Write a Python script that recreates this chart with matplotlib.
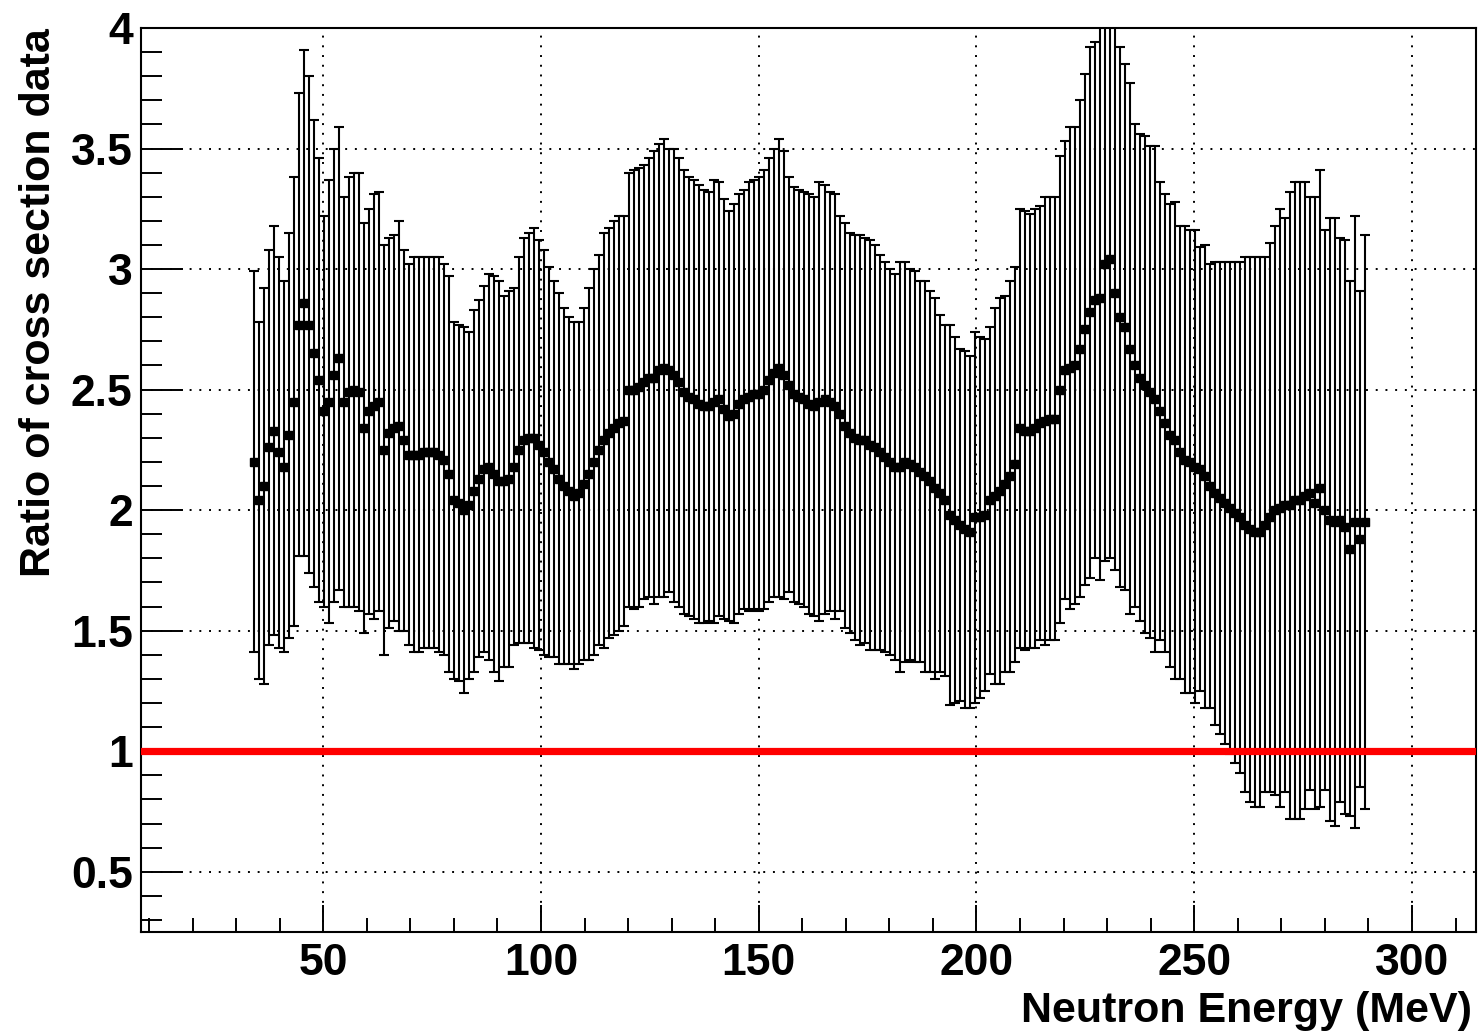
import numpy as np
import matplotlib
matplotlib.use("Agg")
import matplotlib.pyplot as plt
from matplotlib.ticker import MultipleLocator, FuncFormatter

plt.rcParams['font.family'] = ['Liberation Sans', 'DejaVu Sans']
plt.rcParams['font.weight'] = 'bold'

# neutron energy of each point (MeV)
energy = [
    34.00, 35.15, 36.30, 37.45, 38.60, 39.75, 40.90, 42.05, 43.20, 44.35,
    45.50, 46.65, 47.80, 48.95, 50.10, 51.25, 52.40, 53.55, 54.70, 55.85,
    57.00, 58.15, 59.30, 60.45, 61.60, 62.75, 63.90, 65.05, 66.20, 67.35,
    68.50, 69.65, 70.80, 71.95, 73.10, 74.25, 75.40, 76.55, 77.70, 78.85,
    80.00, 81.15, 82.30, 83.45, 84.60, 85.75, 86.90, 88.05, 89.20, 90.35,
    91.50, 92.65, 93.80, 94.95, 96.10, 97.25, 98.40, 99.55, 100.70, 101.85,
    103.00, 104.15, 105.30, 106.45, 107.60, 108.75, 109.90, 111.05, 112.20, 113.35,
    114.50, 115.65, 116.80, 117.95, 119.10, 120.25, 121.40, 122.55, 123.70, 124.85,
    126.00, 127.15, 128.30, 129.45, 130.60, 131.75, 132.90, 134.05, 135.20, 136.35,
    137.50, 138.65, 139.80, 140.95, 142.10, 143.25, 144.40, 145.55, 146.70, 147.85,
    149.00, 150.15, 151.30, 152.45, 153.60, 154.75, 155.90, 157.05, 158.20, 159.35,
    160.50, 161.65, 162.80, 163.95, 165.10, 166.25, 167.40, 168.55, 169.70, 170.85,
    172.00, 173.15, 174.30, 175.45, 176.60, 177.75, 178.90, 180.05, 181.20, 182.35,
    183.50, 184.65, 185.80, 186.95, 188.10, 189.25, 190.40, 191.55, 192.70, 193.85,
    195.00, 196.15, 197.30, 198.45, 199.60, 200.75, 201.90, 203.05, 204.20, 205.35,
    206.50, 207.65, 208.80, 209.95, 211.10, 212.25, 213.40, 214.55, 215.70, 216.85,
    218.00, 219.15, 220.30, 221.45, 222.60, 223.75, 224.90, 226.05, 227.20, 228.35,
    229.50, 230.65, 231.80, 232.95, 234.10, 235.25, 236.40, 237.55, 238.70, 239.85,
    241.00, 242.15, 243.30, 244.45, 245.60, 246.75, 247.90, 249.05, 250.20, 251.35,
    252.50, 253.65, 254.80, 255.95, 257.10, 258.25, 259.40, 260.55, 261.70, 262.85,
    264.00, 265.15, 266.30, 267.45, 268.60, 269.75, 270.90, 272.05, 273.20, 274.35,
    275.50, 276.65, 277.80, 278.95, 280.10, 281.25, 282.40, 283.55, 284.70, 285.85,
    287.00, 288.15, 289.30,
]

# ratio of cross section data (point value)
ratio = [
    2.20, 2.04, 2.10, 2.26, 2.33, 2.24, 2.18, 2.31, 2.45, 2.77,
    2.86, 2.77, 2.65, 2.54, 2.41, 2.45, 2.56, 2.63, 2.45, 2.49,
    2.50, 2.49, 2.34, 2.41, 2.43, 2.45, 2.25, 2.32, 2.34, 2.35,
    2.29, 2.23, 2.23, 2.23, 2.24, 2.24, 2.24, 2.23, 2.21, 2.15,
    2.04, 2.03, 2.00, 2.02, 2.08, 2.13, 2.17, 2.18, 2.15, 2.12,
    2.12, 2.13, 2.18, 2.25, 2.29, 2.30, 2.30, 2.27, 2.24, 2.20,
    2.17, 2.13, 2.10, 2.08, 2.06, 2.07, 2.11, 2.15, 2.20, 2.25,
    2.29, 2.32, 2.34, 2.36, 2.37, 2.50, 2.50, 2.51, 2.53, 2.55,
    2.55, 2.58, 2.59, 2.58, 2.56, 2.53, 2.49, 2.47, 2.46, 2.44,
    2.43, 2.43, 2.45, 2.46, 2.42, 2.39, 2.40, 2.44, 2.46, 2.47,
    2.48, 2.48, 2.50, 2.54, 2.57, 2.59, 2.56, 2.52, 2.48, 2.47,
    2.46, 2.44, 2.43, 2.45, 2.46, 2.45, 2.43, 2.40, 2.35, 2.32,
    2.30, 2.29, 2.29, 2.27, 2.26, 2.24, 2.22, 2.20, 2.18, 2.18,
    2.20, 2.19, 2.18, 2.16, 2.14, 2.12, 2.09, 2.07, 2.04, 1.98,
    1.96, 1.94, 1.92, 1.91, 1.97, 1.97, 1.98, 2.04, 2.06, 2.08,
    2.11, 2.14, 2.19, 2.34, 2.33, 2.33, 2.34, 2.36, 2.37, 2.38,
    2.38, 2.50, 2.58, 2.59, 2.60, 2.67, 2.75, 2.82, 2.87, 2.88,
    3.02, 3.04, 2.90, 2.80, 2.76, 2.67, 2.60, 2.55, 2.52, 2.49,
    2.46, 2.41, 2.36, 2.31, 2.29, 2.24, 2.21, 2.20, 2.18, 2.17,
    2.14, 2.10, 2.07, 2.05, 2.03, 2.01, 1.99, 1.97, 1.94, 1.92,
    1.91, 1.91, 1.94, 1.97, 2.00, 2.01, 2.02, 2.02, 2.04, 2.04,
    2.06, 2.07, 2.03, 2.09, 2.00, 1.96, 1.95, 1.96, 1.93, 1.84,
    1.95, 1.88, 1.95,
]

# top end of each error bar
upper = [
    2.99, 2.78, 2.92, 3.08, 3.18, 3.05, 2.95, 3.15, 3.38, 3.73,
    3.91, 3.80, 3.62, 3.46, 3.22, 3.37, 3.50, 3.59, 3.30, 3.38,
    3.40, 3.40, 3.19, 3.25, 3.31, 3.32, 3.10, 3.13, 3.14, 3.20,
    3.08, 3.02, 3.05, 3.05, 3.05, 3.05, 3.05, 3.05, 3.02, 2.97,
    2.78, 2.77, 2.76, 2.74, 2.83, 2.87, 2.93, 2.98, 2.97, 2.95,
    2.89, 2.91, 2.92, 3.05, 3.13, 3.15, 3.17, 3.12, 3.08, 3.01,
    2.95, 2.90, 2.84, 2.80, 2.78, 2.78, 2.84, 2.92, 3.00, 3.06,
    3.15, 3.17, 3.20, 3.22, 3.22, 3.40, 3.41, 3.42, 3.43, 3.46,
    3.49, 3.52, 3.54, 3.50, 3.50, 3.46, 3.41, 3.38, 3.37, 3.35,
    3.33, 3.32, 3.37, 3.36, 3.29, 3.24, 3.27, 3.31, 3.33, 3.36,
    3.37, 3.38, 3.41, 3.46, 3.50, 3.54, 3.49, 3.38, 3.34, 3.33,
    3.32, 3.31, 3.30, 3.36, 3.35, 3.32, 3.31, 3.22, 3.19, 3.15,
    3.14, 3.14, 3.13, 3.12, 3.10, 3.06, 3.03, 3.00, 2.98, 3.03,
    3.03, 3.00, 2.99, 2.95, 2.95, 2.91, 2.88, 2.81, 2.77, 2.77,
    2.72, 2.67, 2.66, 2.64, 2.74, 2.72, 2.71, 2.76, 2.84, 2.88,
    2.89, 2.95, 3.01, 3.25, 3.24, 3.23, 3.25, 3.26, 3.30, 3.30,
    3.30, 3.47, 3.53, 3.59, 3.59, 3.70, 3.81, 3.92, 3.94, 4.05,
    4.25, 4.28, 4.05, 3.92, 3.85, 3.77, 3.60, 3.56, 3.55, 3.51,
    3.51, 3.36, 3.31, 3.27, 3.28, 3.18, 3.18, 3.16, 3.16, 3.09,
    3.10, 3.02, 3.03, 3.03, 3.03, 3.03, 3.03, 3.03, 3.05, 3.05,
    3.05, 3.05, 3.05, 3.11, 3.18, 3.25, 3.21, 3.32, 3.36, 3.36,
    3.36, 3.30, 3.30, 3.41, 3.16, 3.21, 3.21, 3.13, 3.12, 2.95,
    3.22, 2.91, 3.14,
]

reference_level = 1.0

E = np.array(energy)
R = np.array(ratio)
err = np.array(upper) - R

W, H = 1480, 1032
fig = plt.figure(figsize=(W / 100, H / 100), dpi=100)
ax = fig.add_axes([141 / W, 100 / H, 1335 / W, 904 / H])

ax.errorbar(E, R, yerr=err, fmt="s", color="black", ms=6,
            elinewidth=1.5, capsize=3.6, capthick=1.5, zorder=2)
ax.axhline(reference_level, color="#ff0000", lw=5.2, zorder=3)

ax.set_xlim(8.15, 314.7)
ax.set_ylim(0.25, 4.0)

ax.xaxis.set_major_locator(MultipleLocator(50))
ax.xaxis.set_minor_locator(MultipleLocator(10))
ax.yaxis.set_major_locator(MultipleLocator(0.5))
ax.yaxis.set_minor_locator(MultipleLocator(0.1))
ax.yaxis.set_major_formatter(FuncFormatter(lambda v, p: "%g" % v))

ax.tick_params(axis="both", which="both", direction="in",
               top=False, right=False, width=1.4, colors="black")
ax.tick_params(axis="x", which="major", length=19.5, pad=8, labelsize=32)
ax.tick_params(axis="x", which="minor", length=10)
ax.tick_params(axis="y", which="major", length=30, pad=6, labelsize=32)
ax.tick_params(axis="y", which="minor", length=15)
for lab in ax.get_xticklabels() + ax.get_yticklabels():
    lab.set_fontweight("bold")

ax.grid(True, which="major", color="black", linestyle=(0, (1, 4)),
        linewidth=1.4)
ax.set_axisbelow(True)
for sp in ax.spines.values():
    sp.set_linewidth(1.5)

fig.text(1472 / W, 1 - 1022 / H, "Neutron Energy (MeV)", fontsize=31,
         fontweight="bold", ha="right", va="baseline")
fig.text(50 / W, 1 - 28 / H, "Ratio of cross section data", fontsize=31,
         fontweight="bold", ha="right", va="baseline", rotation=90,
         rotation_mode="anchor")

fig.savefig("out.png", dpi=100)
